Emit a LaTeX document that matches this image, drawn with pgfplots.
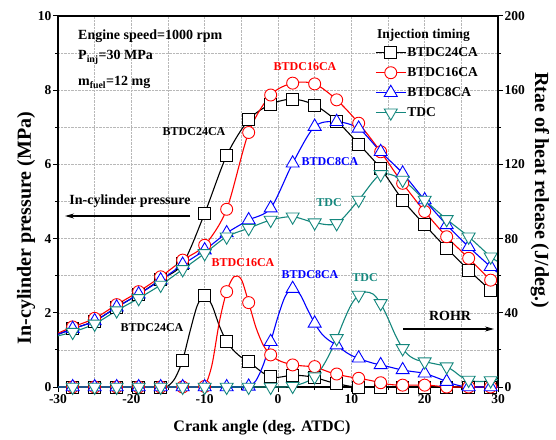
\documentclass[border=0pt]{standalone}
\usepackage{fontspec}
\setmainfont{Liberation Serif}
\usepackage{pgfplots}
\pgfplotsset{compat=1.18}
\usepackage{pgfplotstable}
\usetikzlibrary{arrows.meta}
\definecolor{cteal}{RGB}{20,135,125}
\definecolor{cred}{RGB}{255,0,0}
\definecolor{cblue}{RGB}{0,0,255}

\pgfplotstableread{
x p24 p16 p8 p0
-30 1.42 1.45 1.42 1.38
-28 1.57 1.62 1.57 1.48
-25 1.78 1.85 1.78 1.70
-22 2.15 2.22 2.15 2.06
-19 2.50 2.57 2.50 2.39
-16 2.90 2.97 2.88 2.75
-13 3.32 3.42 3.30 3.17
-10 4.68 3.82 3.69 3.60
-7 6.24 4.79 4.15 4.05
-4 7.20 6.86 4.50 4.28
-1 7.62 7.87 4.82 4.50
2 7.76 8.19 6.03 4.59
5 7.60 8.17 7.02 4.43
8 7.17 7.74 7.15 4.41
11 6.55 7.11 6.97 5.04
14 5.89 6.34 6.34 5.73
17 5.04 5.49 5.76 5.58
20 4.37 4.73 5.04 5.04
23 3.74 4.05 4.37 4.52
26 3.15 3.47 3.78 4.05
29 2.61 2.88 3.24 3.51
30 2.48 2.72 3.08 3.38
}\pres

\pgfplotstableread{
x r24 r16 r8 r0
-30 0 0 0 0
-29 0 0 0 0
-28 0 0 0 0
-27 0 0 0 0
-26 0 0 0 0
-25 0 0 0 0
-24 0 0 0 0
-23 0 0 0 0
-22 0 0 0 0
-21 0 0 0 0
-20 0 0 0 0
-19 0 0 0 0
-18 0 0 0 0
-17 0 0 0 0
-16 0 0 0 0
-15 0.5 0 0 0
-14 5 0 0 0
-13 14.5 0 0 0
-12 30 0 0 0
-11 44 0 0 0
-10 49.5 0.3 0 0
-9 44 12 0 0
-8 33 35 0 0
-7 24.4 51.4 0 0
-6 19.5 59.5 0 0
-5 16 58 0 0
-4 13.7 45.5 0.3 0
-3 10.5 32 3.5 0
-2 7.5 22.5 12 0
-1 5.6 17.3 24.4 0
0 5.2 14.5 38 0
1 5.8 13 49 0
2 6.2 11.9 53 0.5
3 6.2 11.5 50 1.5
4 5.8 11.2 42 3
5 5.2 11 34.3 5.6
6 4 9.5 28.5 10.5
7 2.8 8 25 17.5
8 1.8 7 22.6 26.2
9 1 6 19.5 36
10 0.3 5.3 17 44.5
11 0 4.7 15.5 49.6
12 0 4 14 51.2
13 0 3.2 12.8 50
14 0 2.3 11.9 45.1
15 0 1.5 11 37
16 0 1.1 10 28
17 0 1 9.2 20.8
18 0 1 8.5 16.5
19 0 1 8 14.5
20 0 1 7.4 13.7
21 0 0.8 6 12.8
22 0 0.4 4.5 12
23 0 0 2.9 11
24 0 0 1.5 8.5
25 0 0 0.5 5.5
26 0 0 0 3.8
27 0 0 0 3
28 0 0 0 3
29 0 0 0 3.5
30 0 0 0 4
}\rohr

\pgfplotsset{
  s24/.style={black, line width=1.1pt, mark=square*, mark size=6pt, mark options={solid, fill=white, line width=0.9pt}},
  s16/.style={cred, line width=1.1pt, mark=*, mark size=6pt, mark options={solid, fill=white, line width=0.9pt}},
  s8/.style={cblue, line width=1.1pt, mark=triangle*, mark size=7.5pt, mark options={solid, fill=white, line width=0.9pt}},
  s0/.style={cteal, line width=1.1pt, mark=triangle*, mark size=7.5pt, mark options={solid, fill=white, line width=0.9pt, rotate=180}},
  common/.style={
    at={(58pt,52pt)}, anchor=south west,
    width=440pt, height=371pt, scale only axis,
    xmin=-30, xmax=30,
    tick label style={font=\fontsize{13.5}{15}\selectfont\bfseries},
    /pgf/number format/assume math mode=true,
    major tick length=5pt, minor tick length=3pt,
    every tick/.style={black, line width=1pt},
    axis line style={line width=1.3pt},
  }
}

\begin{document}
\begin{tikzpicture}[font=\bfseries]
\useasboundingbox (0,0) rectangle (556pt,439pt);
\begin{axis}[common,
  ymin=0, ymax=10,
  xtick={-30,-20,...,30}, ytick={0,2,...,10},
  minor x tick num=1, minor y tick num=1,
  tick align=outside, xtick pos=bottom, ytick pos=left,
  grid=both,
  major grid style={densely dotted, black!28, line width=0.6pt},
  minor grid style={densely dotted, black!28, line width=0.6pt},
  yticklabel style={inner sep=1.5pt},
  xticklabel style={inner sep=2pt},
  legend style={at={(axis description cs:0.7205,0.9218)}, anchor=north west,
    draw=none, fill=none, font=\fontsize{13.5}{16}\selectfont\bfseries,
    row sep=5pt, inner sep=0pt,
    nodes={inner sep=1pt, text height=10pt, text depth=3pt}},
  legend cell align=left,
  legend image code/.code={\draw[mark repeat=2,mark phase=2] plot coordinates {(0pt,0pt)(15pt,0pt)(30pt,0pt)};},
]
\addlegendimage{s24}
\addlegendentry{BTDC24CA}
\addlegendimage{s16}
\addlegendentry{BTDC16CA}
\addlegendimage{s8}
\addlegendentry{BTDC8CA}
\addlegendimage{s0}
\addlegendentry{TDC}

\addplot[s24, smooth, no markers, forget plot] table[x=x, y=p24] {\pres};
\addplot[s24, only marks, forget plot, skip coords between index={0}{1}, skip coords between index={21}{22}] table[x=x, y=p24] {\pres};
\addplot[s16, smooth, no markers, forget plot] table[x=x, y=p16] {\pres};
\addplot[s16, only marks, forget plot, skip coords between index={0}{1}, skip coords between index={21}{22}] table[x=x, y=p16] {\pres};
\addplot[s8, smooth, no markers, forget plot] table[x=x, y=p8] {\pres};
\addplot[s8, only marks, forget plot, skip coords between index={0}{1}, skip coords between index={21}{22}] table[x=x, y=p8] {\pres};
\addplot[s0, smooth, no markers, forget plot] table[x=x, y=p0] {\pres};
\addplot[s0, only marks, forget plot, skip coords between index={0}{1}, skip coords between index={21}{22}] table[x=x, y=p0] {\pres};
\end{axis}

\begin{axis}[common,
  ymin=0, ymax=200,
  axis x line=none, axis y line*=right,
  ytick={0,40,...,200}, minor y tick num=1,
  tick align=outside,
  yticklabel style={inner sep=1.5pt, anchor=west},
]
\addplot[s24, smooth, mark repeat=3, mark phase=3] table[x=x, y=r24] {\rohr};
\addplot[s16, smooth, mark repeat=3, mark phase=3] table[x=x, y=r16] {\rohr};
\addplot[s8, smooth, mark repeat=3, mark phase=3] table[x=x, y=r8] {\rohr};
\addplot[s0, smooth, mark repeat=3, mark phase=3] table[x=x, y=r0] {\rohr};
\end{axis}

% axis labels
\node[rotate=90, font=\fontsize{20}{22}\selectfont\bfseries] at (26pt,211pt) {In-cylinder pressure (MPa)};
\node[rotate=-90, font=\fontsize{20}{22}\selectfont\bfseries] at (540pt,249pt) {Rtae of heat release (J/deg.)};
\node[font=\fontsize{16}{18}\selectfont\bfseries] at (262pt,11pt) {Crank angle (deg. ATDC)};

% conditions
\begin{scope}[font=\fontsize{14}{16}\selectfont\bfseries]
\node[anchor=base west, inner sep=0pt] at (78pt,399pt) {Engine speed=1000 rpm};
\node[anchor=base west, inner sep=0pt] at (78pt,379pt) {P\textsubscript{inj}=30 MPa};
\node[anchor=base west, inner sep=0pt] at (78pt,353pt) {m\textsubscript{fuel}=12 mg};
\node[anchor=base west, inner sep=0pt, font=\fontsize{13.5}{16}\selectfont\bfseries] at (377pt,400pt) {Injection timing};
\node[inner sep=0pt] at (130pt,238pt) {In-cylinder pressure};
\draw[line width=1.1pt, -{Stealth[length=9pt,width=5pt]}] (190pt,223pt) -- (65pt,223pt);
\node[inner sep=0pt] at (450pt,123pt) {ROHR};
\draw[line width=1.1pt, -{Stealth[length=9pt,width=5pt]}] (403pt,110pt) -- (494pt,110pt);
\end{scope}

% series labels
\begin{scope}[font=\fontsize{12}{14}\selectfont\bfseries, inner sep=0pt]
\node[text=cred] at (305pt,372pt) {BTDC16CA};
\node[text=black] at (194pt,307pt) {BTDC24CA};
\node[text=cblue] at (330pt,277pt) {BTDC8CA};
\node[text=cteal] at (329pt,236pt) {TDC};
\node[text=cred] at (243pt,176pt) {BTDC16CA};
\node[text=black] at (152pt,111pt) {BTDC24CA};
\node[text=cblue] at (310pt,164pt) {BTDC8CA};
\node[text=cteal] at (365pt,161pt) {TDC};
\end{scope}
\end{tikzpicture}
\end{document}
